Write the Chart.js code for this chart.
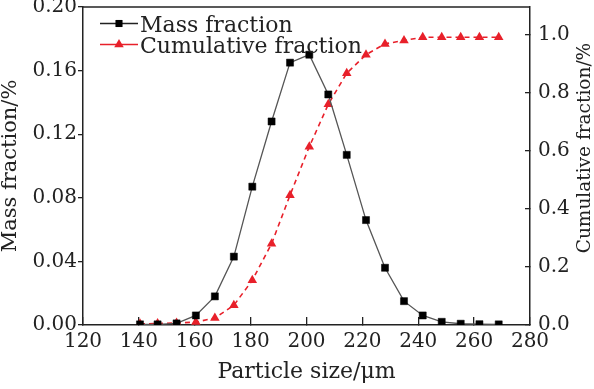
<!DOCTYPE html>
<html>
<head>
<meta charset="utf-8">
<script src="https://cdn.jsdelivr.net/npm/chart.js@4.4.1/dist/chart.umd.min.js"></script>
<style>
    html, body { margin: 0; padding: 0; background: #fff; }
    #wrap { width: 594px; height: 389px; }
</style>
</head>
<body>
<div id="wrap"><canvas id="psdChart"></canvas></div>
<script>
// values
const sizes = [140.4, 146.7, 153.5, 160.4, 167.2, 174.0, 180.6, 187.5, 194.1, 201.0,
               207.8, 214.4, 221.3, 228.1, 234.9, 241.6, 248.4, 255.2, 261.9, 268.8];
const massFraction = [0.0004, 0.0004, 0.001, 0.006, 0.018, 0.043, 0.087, 0.128, 0.165, 0.170,
                      0.145, 0.107, 0.066, 0.036, 0.015, 0.006, 0.002, 0.0008, 0.0005, 0.0004];
const cumulativeFraction = [0.004, 0.005, 0.007, 0.010, 0.024, 0.068, 0.154, 0.280, 0.447, 0.614,
                            0.760, 0.867, 0.931, 0.968, 0.980, 0.991, 0.991, 0.991, 0.991, 0.991];

const xTicks = [120, 140, 160, 180, 200, 220, 240, 260, 280];
const massTicks = [0, 0.04, 0.08, 0.12, 0.16, 0.20];
const cumTicks = [0, 0.2, 0.4, 0.6, 0.8, 1.0];

const legendLabels = ['Mass fraction', 'Cumulative fraction'];
const xTitle = 'Particle size/\u03bcm';
const leftTitle = 'Mass fraction/%';
const rightTitle = 'Cumulative fraction/%';

const FONT = "'DejaVu Serif', serif";
const AXIS = '#222';
const MASS_LINE = '#555';
const RED = '#e8202a';

Chart.defaults.font.family = FONT;
Chart.defaults.color = AXIS;

const toPoints = (ys) => sizes.map((x, i) => ({ x, y: ys[i] }));
const setTicks = (arr) => (axis) => { axis.ticks = arr.map(v => ({ value: v })); };
// fixed axis sizes, no extra room for overhanging labels
const fixSize = (w, h) => (s) => {
    if (w != null) s.width = w;
    if (h != null) s.height = h;
    s.paddingTop = s.paddingBottom = s.paddingLeft = s.paddingRight = 0;
};

function drawMarker(ctx, style, x, y, r) {
    ctx.beginPath();
    if (style === 'rect') {
        const s = r * Math.SQRT1_2;
        ctx.rect(x - s, y - s, 2 * s, 2 * s);
    } else {
        const h = r * Math.sin(Math.PI / 3);
        ctx.moveTo(x, y - r);
        ctx.lineTo(x + h, y + r / 2);
        ctx.lineTo(x - h, y + r / 2);
        ctx.closePath();
    }
    ctx.fill();
}

// top edge of the frame, legend inside the plot, right axis title (reads bottom-to-top)
const extras = {
    id: 'extras',
    afterDraw(chart) {
        const { ctx, chartArea: a } = chart;
        ctx.save();
        ctx.strokeStyle = AXIS;
        ctx.lineWidth = 1.5;
        ctx.beginPath();
        ctx.moveTo(a.left, a.top);
        ctx.lineTo(a.right, a.top);
        ctx.stroke();

        const rows = [
            { text: legendLabels[0], line: AXIS, fill: '#000', marker: 'rect', r: 5, y: a.top + 16.5 },
            { text: legendLabels[1], line: RED, fill: RED, marker: 'triangle', r: 5.5, y: a.top + 37.5 }
        ];
        const x0 = a.left + 17, x1 = a.left + 55;
        ctx.font = `22px ${FONT}`;
        ctx.textBaseline = 'alphabetic';
        ctx.textAlign = 'left';
        rows.forEach(row => {
            ctx.strokeStyle = row.line;
            ctx.lineWidth = 1.3;
            ctx.beginPath();
            ctx.moveTo(x0, row.y);
            ctx.lineTo(x1, row.y);
            ctx.stroke();
            ctx.fillStyle = row.fill;
            drawMarker(ctx, row.marker, (x0 + x1) / 2, row.y, row.r);
            ctx.fillStyle = AXIS;
            ctx.fillText(row.text, x1 + 2, row.y + 8.5);
        });

        ctx.font = `18.5px ${FONT}`;
        ctx.fillStyle = AXIS;
        ctx.textAlign = 'center';
        ctx.translate(590, 148);
        ctx.rotate(-Math.PI / 2);
        ctx.fillText(rightTitle, 0, 0);
        ctx.restore();
    }
};

new Chart(document.getElementById('psdChart'), {
    type: 'line',
    data: {
        datasets: [
            {
                label: legendLabels[0], data: toPoints(massFraction), yAxisID: 'y',
                borderColor: MASS_LINE, borderWidth: 1.3, tension: 0,
                pointStyle: 'rect', pointRadius: 5, pointBorderWidth: 0.5,
                pointBackgroundColor: '#000', pointBorderColor: '#000', clip: 0
            },
            {
                label: legendLabels[1], data: toPoints(cumulativeFraction), yAxisID: 'y1',
                borderColor: RED, borderWidth: 1.6, borderDash: [5, 4], tension: 0,
                pointStyle: 'triangle', pointRadius: 5.5, pointBorderWidth: 0,
                pointBackgroundColor: RED, pointBorderColor: RED, clip: 0
            }
        ]
    },
    options: {
        responsive: true, maintainAspectRatio: false, animation: false,
        layout: { padding: { top: 7, left: 0, right: 0, bottom: 0 } },
        plugins: { legend: { display: false }, tooltip: { enabled: false } },
        scales: {
            x: {
                type: 'linear', position: 'bottom', min: 120, max: 280,
                afterBuildTicks: setTicks(xTicks),
                afterFit: fixSize(null, 64),
                grid: { drawOnChartArea: false, tickLength: -8, color: AXIS, lineWidth: 1.3 },
                border: { color: AXIS, width: 1.5 },
                ticks: { font: { size: 20 }, padding: 13, maxRotation: 0, autoSkip: false, color: AXIS },
                title: { display: true, text: xTitle, font: { size: 22 }, padding: { top: 0, bottom: 4 }, color: AXIS }
            },
            y: {
                type: 'linear', position: 'left', min: 0, max: 0.2,
                afterBuildTicks: setTicks(massTicks),
                afterFit: fixSize(83, null),
                grid: { drawOnChartArea: false, tickLength: 5, color: AXIS, lineWidth: 1.3 },
                border: { color: AXIS, width: 1.5 },
                ticks: { font: { size: 20 }, padding: 1, color: AXIS, callback: v => v.toFixed(2) },
                title: { display: true, text: leftTitle, font: { size: 21, lineHeight: 1 }, padding: 0, color: AXIS }
            },
            y1: {
                type: 'linear', position: 'right', min: 0, max: 1.095,
                afterBuildTicks: setTicks(cumTicks),
                afterFit: fixSize(64, null),
                grid: { drawOnChartArea: false, tickLength: -5, color: AXIS, lineWidth: 1.3 },
                border: { color: AXIS, width: 1.5 },
                ticks: { font: { size: 20 }, padding: 13, color: AXIS, callback: v => v.toFixed(1) }
            }
        }
    },
    plugins: [extras]
});
</script>
</body>
</html>
